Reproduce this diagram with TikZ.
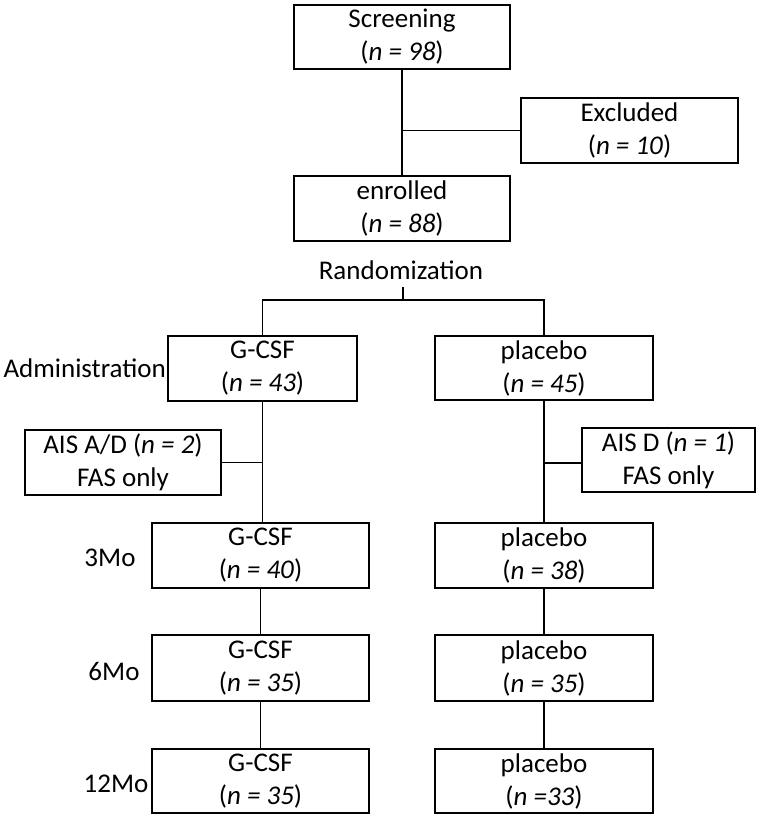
\documentclass[tikz,border=0pt]{standalone}
\usepackage{fontspec}
\setmainfont{Carlito}
\begin{document}
\begin{tikzpicture}[x=1pt,y=-1pt,
  box/.style={draw,line width=2pt,rectangle,inner sep=0pt,align=center,font=\fontsize{27}{33}\selectfont},
  lbl/.style={inner sep=0pt,font=\fontsize{27}{33}\selectfont},
  conn/.style={line width=1.9pt}]
\useasboundingbox (0,0) rectangle (760,819);
\node[box,minimum width=216pt,minimum height=64pt] (scr) at (402,37) {Screening\\(\textit{n = 98})};
\node[box,minimum width=217pt,minimum height=65pt] (exc) at (629.5,130.5) {Excluded\\(\textit{n = 10})};
\node[box,minimum width=216pt,minimum height=65pt] (enr) at (402,208.5) {enrolled\\(\textit{n = 88})};
\node[lbl] (rand) at (401,270) {Randomization};
\coordinate (rtick) at (403,287);
\coordinate (rjoin) at (403,300);
\node[lbl,anchor=east] (adm) at (166,368) {Administration};
\node[box,minimum width=189pt,minimum height=65pt] (gadm) at (262.5,368.5) {G-CSF\\(\textit{n = 43})};
\node[box,minimum width=218pt,minimum height=64pt] (padm) at (544,368) {placebo\\(\textit{n = 45})};
\node[box,minimum width=196pt,minimum height=65pt] (aisg) at (123,462.5) {AIS A/D (\textit{n = 2})\\FAS only};
\node[box,minimum width=173pt,minimum height=64pt] (aisp) at (668.5,460) {AIS D (\textit{n = 1})\\FAS only};
\node[lbl] (m3) at (110,558) {3Mo};
\node[box,minimum width=217pt,minimum height=65pt] (g3) at (260.5,555.5) {G-CSF\\(\textit{n = 40})};
\node[box,minimum width=218pt,minimum height=65pt] (p3) at (544,555.5) {placebo\\(\textit{n = 38})};
\node[lbl] (m6) at (114,671) {6Mo};
\node[box,minimum width=217pt,minimum height=66pt] (g6) at (260.5,668) {G-CSF\\(\textit{n = 35})};
\node[box,minimum width=218pt,minimum height=66pt] (p6) at (544,668) {placebo\\(\textit{n = 35})};
\node[lbl] (m12) at (116,784) {12Mo};
\node[box,minimum width=217pt,minimum height=64pt] (g12) at (260.5,781) {G-CSF\\(\textit{n = 35})};
\node[box,minimum width=218pt,minimum height=64pt] (p12) at (544,781) {placebo\\(\textit{n =33})};
% connectors
\draw[conn] (scr.south) -- (enr.north);
\draw[conn] (exc.west) -- (exc.west -| scr.south);
\draw[conn] (rtick) -- (rjoin);
\draw[conn] (gadm.north) |- (rjoin) -| (padm.north);
\draw[conn] (gadm.south) -- (gadm.south |- g3.north);
\draw[conn] (padm.south) -- (padm.south |- p3.north);
\draw[conn] (aisg.east) -- (aisg.east -| gadm.south);
\draw[conn] (aisp.west |- 0,463) -- (padm.south |- 0,463);
\draw[conn] (g3.south) -- (g6.north);
\draw[conn] (g6.south) -- (g12.north);
\draw[conn] (p3.south) -- (p6.north);
\draw[conn] (p6.south) -- (p12.north);
\end{tikzpicture}
\end{document}
